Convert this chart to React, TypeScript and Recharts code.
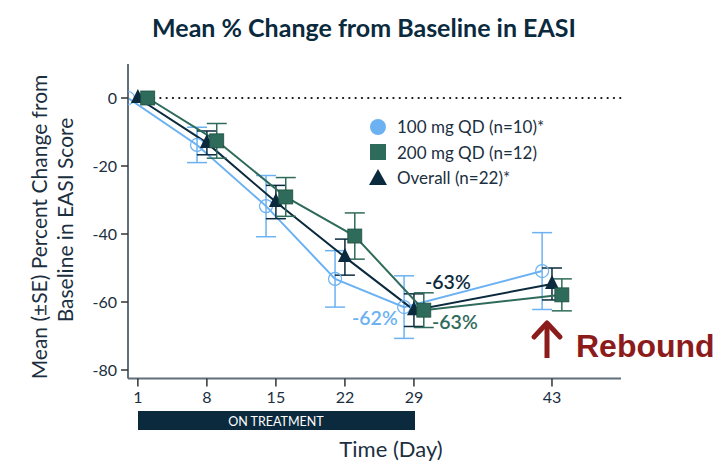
import React from 'react';
import { ComposedChart, Line, XAxis, YAxis, ErrorBar, ReferenceLine } from 'recharts';

const days = [1, 8, 15, 22, 29, 43];
const mean100 = [0, -13.8, -31.8, -53.2, -61.5, -50.9];
const se100 = [0, 5.2, 9.0, 8.3, 9.2, 11.3];
const mean200 = [0, -12.6, -29.1, -40.6, -62.4, -57.9];
const se200 = [0, 5.1, 5.7, 6.8, 5.1, 4.7];
const meanAll = [0, -13.2, -30.6, -46.8, -62.4, -54.7];
const seAll = [0, 3.5, 4.9, 5.3, 4.8, 4.7];
const yTicks = [-80, -60, -40, -20, 0];
const legendLabels = ['100 mg QD (n=10)*', '200 mg QD (n=12)', 'Overall (n=22)*'];

const BLUE = '#6cb2f2';
const GREEN = '#2f6b5a';
const NAVY = '#0b2a3d';
const RED = '#8c1c1c';
const AXIS = '#5f6f7b';
const TEXT = '#1b2f3f';
const FONT = 'Lato, "Open Sans", sans-serif';

const build = (m: number[], s: number[], shift: number) =>
  days.map((d, i) => ({ x: d + shift, y: m[i], err: s[i] === 0 ? null : s[i] }));

const d100 = build(mean100, se100, -1);
const d200 = build(mean200, se200, 1);
const dAll = build(meanAll, seAll, 0);

const CircleDot = (p: any) => (
  <circle key={p.key} cx={p.cx} cy={p.cy} r={6.5} fill="none" stroke={BLUE} strokeWidth={1.2} />
);
const SquareDot = (p: any) => (
  <rect key={p.key} x={p.cx - 7} y={p.cy - 7} width={14} height={14} fill={GREEN} stroke="#1f4f41" strokeWidth={0.8} />
);
const TriDot = (p: any) => (
  <polygon key={p.key} points={`${p.cx},${p.cy - 9} ${p.cx - 7},${p.cy + 5} ${p.cx + 7},${p.cy + 5}`} fill={NAVY} />
);

export default function App() {
  return (
    <div style={{ position: 'absolute', left: 0, top: 0, width: 725, height: 462, background: '#fff', fontFamily: FONT }}>
      <ComposedChart width={725} height={462} margin={{ top: 64, right: 104, bottom: 53.5, left: 68 }}>
        <XAxis
          type="number"
          dataKey="x"
          domain={[0, 50]}
          ticks={days}
          allowDataOverflow
          height={30}
          stroke={AXIS}
          strokeWidth={2}
          tickSize={8}
          tickMargin={5}
          tick={{ fill: TEXT, fontSize: 16, fontFamily: FONT }}
          tickLine={{ stroke: '#333', strokeWidth: 1.5 }}
        />
        <YAxis
          type="number"
          domain={[-82.5, 10]}
          ticks={yTicks}
          allowDataOverflow
          width={60}
          stroke={AXIS}
          strokeWidth={2}
          tickSize={7}
          tickMargin={4}
          tick={{ fill: TEXT, fontSize: 16, fontFamily: FONT }}
          tickLine={{ stroke: '#333', strokeWidth: 1.5 }}
        />
        <ReferenceLine
          segment={[{ x: 2, y: 0 }, { x: 50, y: 0 }]}
          stroke="#111"
          strokeWidth={2.2}
          strokeDasharray="0.1 6.2"
          strokeLinecap="round"
        />
        <Line data={d100} dataKey="y" stroke={BLUE} strokeWidth={2} dot={CircleDot} isAnimationActive={false} legendType="none">
          <ErrorBar dataKey="err" direction="y" width={10} stroke={BLUE} strokeWidth={1.5} />
        </Line>
        <Line data={dAll} dataKey="y" stroke={NAVY} strokeWidth={2} dot={TriDot} isAnimationActive={false} legendType="none">
          <ErrorBar dataKey="err" direction="y" width={10} stroke={NAVY} strokeWidth={1.5} />
        </Line>
        <Line data={d200} dataKey="y" stroke={GREEN} strokeWidth={2} dot={SquareDot} isAnimationActive={false} legendType="none">
          <ErrorBar dataKey="err" direction="y" width={10} stroke={GREEN} strokeWidth={1.5} />
        </Line>
      </ComposedChart>
      <svg width={725} height={462} style={{ position: 'absolute', left: 0, top: 0, pointerEvents: 'none' }}>
        <text x={364} y={37} textAnchor="middle" fontSize={25} fontWeight={700} fill={NAVY} fontFamily={FONT}>
          Mean % Change from Baseline in EASI
        </text>
        <text transform="translate(47,227) rotate(-90)" textAnchor="middle" fontSize={21} fill={TEXT} fontFamily={FONT}>
          Mean (±SE) Percent Change from
        </text>
        <text transform="translate(73,220) rotate(-90)" textAnchor="middle" fontSize={21} fill={TEXT} fontFamily={FONT}>
          Baseline in EASI Score
        </text>
        <text x={391} y={457} textAnchor="middle" fontSize={22} fill={TEXT} fontFamily={FONT}>
          Time (Day)
        </text>
        <rect x={138} y={411} width={277} height={19} fill={NAVY} />
        <text x={276} y={425.5} textAnchor="middle" fontSize={12.5} fill="#fff" fontFamily={FONT}>
          ON TREATMENT
        </text>
        {/* legend */}
        <circle cx={378} cy={127} r={8} fill={BLUE} />
        <rect x={370} y={144} width={16} height={16} fill={GREEN} />
        <polygon points="378,169 369,185 387,185" fill={NAVY} />
        {legendLabels.map((t, i) => (
          <text key={t} x={397} y={133 + i * 25.5} fontSize={17} fill={TEXT} fontFamily={FONT}>
            {t}
          </text>
        ))}
        <text x={425} y={289} fontSize={19.5} fontWeight={600} fill={NAVY} fontFamily={FONT}>-63%</text>
        <text x={352} y={325} fontSize={19.5} fontWeight={600} fill={BLUE} fontFamily={FONT}>-62%</text>
        <text x={432} y={329} fontSize={19.5} fontWeight={600} fill={GREEN} fontFamily={FONT}>-63%</text>
        <line x1={547} y1={324} x2={547} y2={358} stroke={RED} strokeWidth={5} />
        <polyline points="534,337 547,323 560,337" fill="none" stroke={RED} strokeWidth={5} strokeLinecap="round" strokeLinejoin="round" />
        <text x={576} y={357} fontSize={32} fontWeight={700} fill={RED} fontFamily='"Liberation Sans", Arial, sans-serif'>
          Rebound
        </text>
      </svg>
    </div>
  );
}
